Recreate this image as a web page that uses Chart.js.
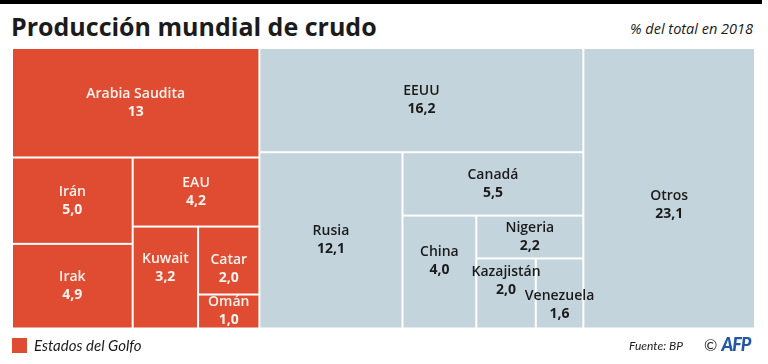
<!DOCTYPE html>
<html lang="es">
<head>
<meta charset="utf-8">
<script src="https://cdn.jsdelivr.net/npm/chart.js@4.4.1/dist/chart.umd.min.js"></script>
<style>
  html, body { margin: 0; padding: 0; background: #fff; }
  body { width: 768px; height: 364px; position: relative; overflow: hidden; font-family: Lato, "Open Sans", sans-serif; color: #1b1b1b; }
  #topbar { position: absolute; left: 0; top: 0; width: 762px; height: 4px; background: #000; }
  #title { position: absolute; left: 11px; top: 10px; font-family: "Open Sans", sans-serif; font-size: 25px; font-weight: bold; line-height: 32px; white-space: nowrap; }
  #subtitle { position: absolute; right: 15px; top: 20px; font-family: "Open Sans", sans-serif; font-size: 14.5px; font-style: italic; line-height: 18px; white-space: nowrap; }
  #chart { position: absolute; left: 0; top: 0; }
  #legend { position: absolute; left: 12px; top: 337px; font-size: 15px; font-style: italic; line-height: 16px; white-space: nowrap; }
  #legend span.box { display: inline-block; width: 15px; height: 15px; background: #df4c32; vertical-align: -2px; margin-right: 7px; }
  #source { position: absolute; left: 629px; top: 338px; font-size: 12px; font-style: italic; line-height: 15px; white-space: nowrap; }
  #afp { position: absolute; left: 704px; top: 334px; font-size: 16px; line-height: 20px; white-space: nowrap; }
  #afp b { color: #2357a5; font-style: italic; font-weight: 900; letter-spacing: -1px; font-size: 18px; }
</style>
</head>
<body>
<div id="topbar"></div>
<div id="title">Producción mundial de crudo</div>
<div id="subtitle">% del total en 2018</div>
<canvas id="chart" width="768" height="364"></canvas>
<div id="legend"><span class="box"></span>Estados del Golfo</div>
<div id="source">Fuente: BP</div>
<div id="afp">© <b>AFP</b></div>

<script>
// Share of world crude production, 2018 (%)
const countries = ["Arabia Saudita", "Irán", "Irak", "EAU", "Kuwait", "Catar", "Omán",
  "EEUU", "Rusia", "Canadá", "China", "Nigeria", "Kazajistán", "Venezuela", "Otros"];
const shares = [13, 5.0, 4.9, 4.2, 3.2, 2.0, 1.0, 16.2, 12.1, 5.5, 4.0, 2.2, 2.0, 1.6, 23.1];
const shareLabels = ["13", "5,0", "4,9", "4,2", "3,2", "2,0", "1,0",
  "16,2", "12,1", "5,5", "4,0", "2,2", "2,0", "1,6", "23,1"];
const gulfStates = [true, true, true, true, true, true, true,
  false, false, false, false, false, false, false, false];

// how the cells are nested: "h" = side by side, "v" = stacked
const layoutTree = ["h", [
  ["v", [0, ["h", [["v", [1, 2]], ["v", [3, ["h", [4, ["v", [5, 6]]]]]]]]]],
  ["v", [7, ["h", [8, ["v", [9, ["h", [10, ["v", [11, ["h", [12, 13]]]]]]]]]]]],
  14
]];

// small vertical nudges for some labels (px), like the original
const labelShift = [0, 0, 0, 0, -10, 8, 0, 0, 0, 0, -11, 0, -12, 12, 17];

const ORANGE = "#df4c32";
const BLUE = "#c4d4dc";

function nodeSum(node) {
  if (typeof node === "number") return shares[node];
  return node[1].reduce((s, n) => s + nodeSum(n), 0);
}

function layout(node, x0, y0, x1, y1, out) {
  if (typeof node === "number") {
    out.push({ i: node, x0, y0, x1, y1 });
    return out;
  }
  const dir = node[0];
  const total = nodeSum(node);
  let pos = dir === "h" ? x0 : y0;
  node[1].forEach((child) => {
    const frac = nodeSum(child) / total;
    if (dir === "h") {
      const w = (x1 - x0) * frac;
      layout(child, pos, y0, pos + w, y1, out);
      pos += w;
    } else {
      const h = (y1 - y0) * frac;
      layout(child, x0, pos, x1, pos + h, out);
      pos += h;
    }
  });
  return out;
}

const cells = layout(layoutTree, 0, 0, 100, 100, []);

const treemapPlugin = {
  id: "treemap",
  afterDatasetsDraw(chart) {
    const ctx = chart.ctx;
    const xs = chart.scales.x;
    const ys = chart.scales.y;
    ctx.save();
    cells.forEach((c) => {
      const left = xs.getPixelForValue(c.x0);
      const right = xs.getPixelForValue(c.x1);
      const top = ys.getPixelForValue(c.y0);
      const bottom = ys.getPixelForValue(c.y1);
      ctx.fillStyle = gulfStates[c.i] ? ORANGE : BLUE;
      ctx.fillRect(left + 1, top + 1, right - left - 2, bottom - top - 2);
    });
    cells.forEach((c) => {
      const cx = (xs.getPixelForValue(c.x0) + xs.getPixelForValue(c.x1)) / 2;
      const cy = (ys.getPixelForValue(c.y0) + ys.getPixelForValue(c.y1)) / 2 + labelShift[c.i];
      const gulf = gulfStates[c.i];
      ctx.fillStyle = gulf ? "#fbf3ee" : "#1b1b1b";
      ctx.textAlign = "center";
      ctx.textBaseline = "middle";
      ctx.font = "600 14px 'Open Sans', sans-serif";
      ctx.fillText(countries[c.i], cx, cy - 9);
      ctx.font = "bold 14px 'Open Sans', sans-serif";
      ctx.fillText(shareLabels[c.i], cx, cy + 9);
    });
    ctx.restore();
  },
};

new Chart(document.getElementById("chart"), {
  type: "scatter",
  data: { datasets: [{ data: [] }] },
  options: {
    responsive: false,
    animation: false,
    layout: { padding: { left: 12, right: 13, top: 48, bottom: 35.5 } },
    plugins: { legend: { display: false }, tooltip: { enabled: false } },
    scales: {
      x: { type: "linear", min: 0, max: 100, display: false },
      y: { type: "linear", min: 0, max: 100, reverse: true, display: false },
    },
  },
  plugins: [treemapPlugin],
});
</script>
</body>
</html>
